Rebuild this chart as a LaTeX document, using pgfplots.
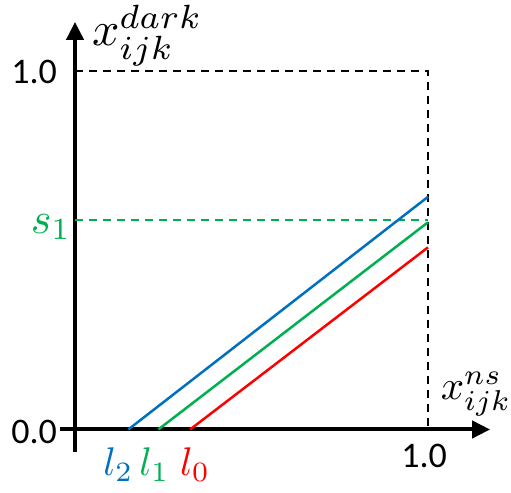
\documentclass[border=0pt]{standalone}
\usepackage{pgfplots}
\pgfplotsset{compat=1.18}
\usepackage{fontspec}
\setmainfont{Carlito}
\usetikzlibrary{arrows.meta}

\definecolor{lblue}{RGB}{0,112,192}
\definecolor{lgreen}{RGB}{0,176,80}
\definecolor{lred}{RGB}{255,0,0}

\newcommand{\numfont}{\fontsize{36}{36}\selectfont}
\tikzset{sym/.style={font=\normalsize, inner sep=0pt, scale=#1}}

\begin{document}
\begin{tikzpicture}
\begin{axis}[
    x=353pt, y=358.5pt,
    xmin=-0.042, xmax=1.176,
    ymin=-0.064, ymax=1.137,
    axis lines=middle,
    axis line style={line width=4pt, -{Triangle[length=18pt,width=17pt]}},
    xtick=\empty, ytick=\empty,
    clip=false,
]
% reference box and level s_1
\addplot[black, line width=2pt, dash pattern=on 8pt off 6pt] coordinates {(0,1) (1,1) (1,0)};
\addplot[lgreen, line width=2pt, dash pattern=on 8pt off 6pt] coordinates {(0,0.585) (1,0.585)};
% response lines for l_2, l_1, l_0
\addplot[lblue, line width=2.5pt] coordinates {(0.151,0) (1,0.649)};
\addplot[lgreen, line width=2.5pt] coordinates {(0.236,0) (1,0.578)};
\addplot[lred, line width=2.5pt] coordinates {(0.326,0) (1,0.508)};

% labels
\node[inner sep=0pt, font=\numfont] at (axis cs:-0.116,0.996) {1.0};
\node[inner sep=0pt, font=\numfont] at (axis cs:-0.116,-0.007) {0.0};
\node[inner sep=0pt, font=\numfont] at (axis cs:0.989,-0.074) {1.0};
\node[sym=4.4, text=lgreen] at (axis cs:-0.068,0.565) {$s_1$};
\node[sym=4.0, text=lblue] at (axis cs:0.123,-0.099) {$l_2$};
\node[sym=4.0, text=lgreen] at (axis cs:0.225,-0.099) {$l_1$};
\node[sym=4.0, text=lred] at (axis cs:0.340,-0.099) {$l_0$};
\node[sym=4.8] at (axis cs:0.205,1.100) {$x_{ijk}^{dark}$};
\node[sym=4.1] at (axis cs:1.136,0.099) {$x_{ijk}^{ns}$};

\coordinate (bbl) at (axis cs:-0.2125,-0.1757);
\coordinate (btr) at (axis cs:1.2351,1.1980);
\end{axis}
\pgfresetboundingbox
\path[use as bounding box] (bbl) rectangle (btr);
\end{tikzpicture}
\end{document}
